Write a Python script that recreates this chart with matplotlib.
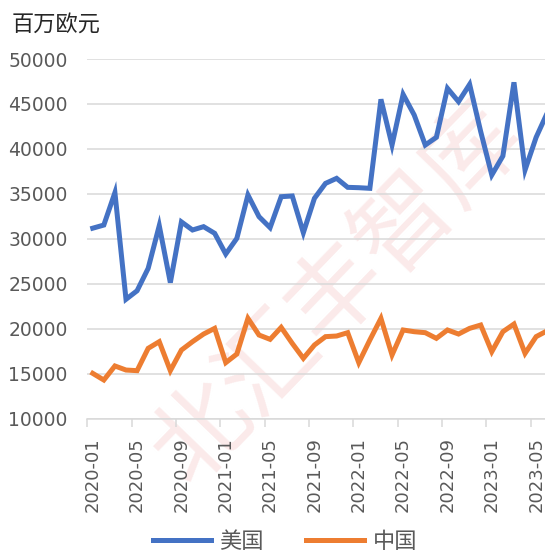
import matplotlib
matplotlib.use("Agg")
import matplotlib.pyplot as plt

# monthly values, million EUR, 2020-01 onward
months = [f"{2020 + i // 12}-{i % 12 + 1:02d}" for i in range(42)]
usa = [31200, 31550, 35150, 23300, 24250, 26740, 31480, 25150, 31900, 31000,
       31370, 30630, 28330, 30070, 34890, 32480, 31260, 34700, 34780, 30700,
       34520, 36180, 36740, 35740, 35700, 35630, 45520, 40440, 46070, 43780,
       40440, 41300, 46740, 45260, 47180, 41930, 37110, 39220, 47410, 37670,
       41300, 44000]
china = [15070, 14330, 15890, 15440, 15370, 17850, 18590, 15370, 17660, 18590,
         19440, 20070, 16260, 17220, 21180, 19330, 18850, 20180, 18400, 16740,
         18220, 19150, 19220, 19590, 16260, 18780, 21180, 17110, 19890, 19700,
         19590, 18960, 19890, 19440, 20070, 20440, 17480, 19700, 20550, 17290,
         19150, 19800]
yticks = [10000, 15000, 20000, 25000, 30000, 35000, 40000, 45000, 50000]

BLUE = "#4472C4"
ORANGE = "#ED7D31"
GREY = "#595959"
CJK = ["Noto Sans CJK SC", "DejaVu Sans"]

fig = plt.figure(figsize=(5.45, 5.54), dpi=100)
ax = fig.add_axes([0.160, 0.2437, 0.840, 0.6498])
ax.set_zorder(2)

# faint watermark, behind the axes
fig.text(0.62, 0.47, "北汇丰智库", family=CJK, fontsize=70, rotation=46,
         color="#fbeaea", ha="center", va="center", zorder=0)

x = list(range(len(months)))
l1, = ax.plot(x, usa, color=BLUE, lw=3.6, solid_joinstyle="miter", zorder=3)
l2, = ax.plot(x, china, color=ORANGE, lw=3.6, solid_joinstyle="miter", zorder=3)

ax.set_xlim(-0.5, 40.8)
ax.set_ylim(10000, 50000)
ax.set_yticks(yticks)
ax.set_yticklabels([str(v) for v in yticks])
ax.yaxis.grid(True, color="#D9D9D9", lw=1.1)
ax.set_axisbelow(True)
ax.patch.set_alpha(0)

for s in ["left", "right", "top"]:
    ax.spines[s].set_visible(False)
ax.spines["bottom"].set_color("#D9D9D9")
ax.spines["bottom"].set_linewidth(1.1)

ax.tick_params(axis="y", length=0, pad=14, labelsize=13.5, labelcolor=GREY)
ax.set_xticks([i - 0.5 for i in range(0, 42, 4)])
ax.set_xticklabels([])
ax.tick_params(axis="x", which="major", length=6, color="#D9D9D9", width=1.1)
ax.set_xticks(list(range(0, 42, 4)), [months[i] for i in range(0, 42, 4)], minor=True)
ax.tick_params(axis="x", which="minor", length=0, pad=13, labelsize=13,
               labelcolor=GREY, labelrotation=90)

fig.text(0.022, 1 - 24 / 554, "百万欧元", family=CJK, fontsize=16,
         color="#262626", ha="left", va="center")

fig.legend([l1, l2], ["美国", "中国"], loc="center",
           bbox_to_anchor=(285 / 545, 1 - 541 / 554), ncol=2, frameon=False,
           prop={"family": CJK, "size": 16}, handlelength=2.6,
           handletextpad=0.4, columnspacing=1.9, labelcolor=GREY,
           borderpad=0.1)

fig.savefig("out.png", dpi=100)
